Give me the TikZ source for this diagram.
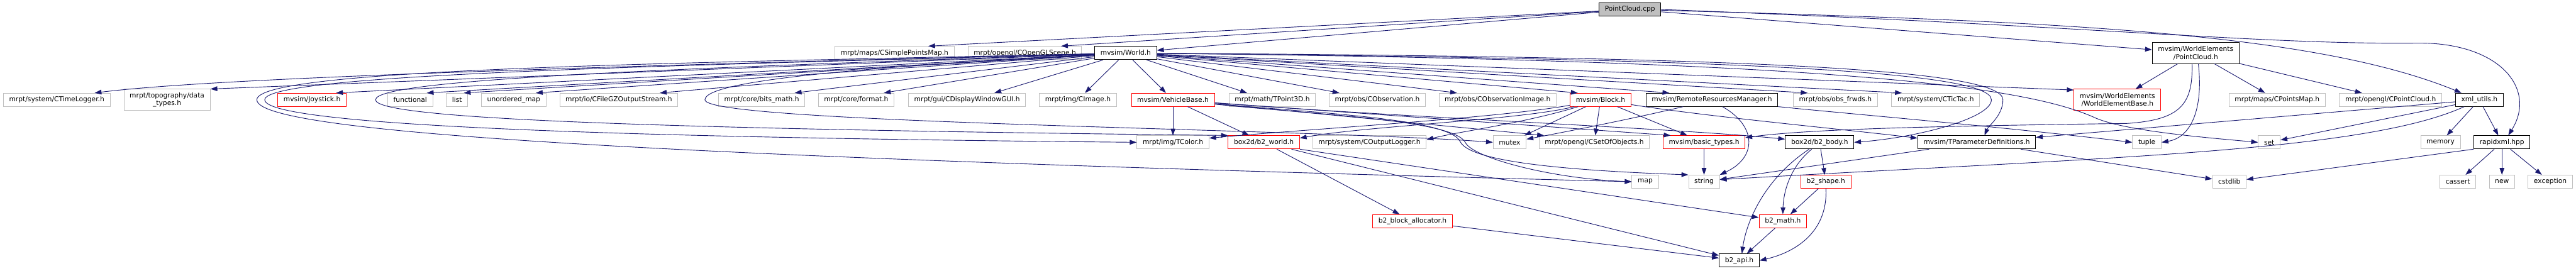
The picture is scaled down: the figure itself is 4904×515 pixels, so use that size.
\documentclass[tikz,border=0pt]{standalone}
\usepackage{fontspec}
\setmainfont{DejaVu Sans}
\usetikzlibrary{arrows.meta}

\definecolor{edgeblue}{RGB}{25,25,112}
\definecolor{boxgrey}{RGB}{191,191,191}
\definecolor{boxred}{RGB}{255,0,0}

\tikzset{
  hdr/.style={draw=boxgrey, line width=1.2pt, minimum height=25pt, inner xsep=11pt, inner ysep=2pt},
  hdoc/.style={hdr, draw=black},
  hcut/.style={hdr, draw=boxred},
  hroot/.style={hdr, draw=black, fill=boxgrey},
  two/.style={align=center, minimum height=40pt},
  inc/.style={draw=edgeblue, line width=1.1pt, -{Triangle[length=13pt,width=9pt]}},
}

\begin{document}
\begin{tikzpicture}[x=1pt,y=-1pt,font=\fontsize{12.8}{15}\selectfont]
  \useasboundingbox (0,0) rectangle (4904,515);

  % top rows
  \node[hroot] (cpp) at (3103,18) {PointCloud.cpp};
  \node[hdr] (simplePts) at (1703,101) {mrpt/maps/CSimplePointsMap.h};
  \node[hdr] (oglScene) at (1951,101) {mrpt/opengl/COpenGLScene.h};
  \node[hdoc] (world) at (2143,101) {mvsim/World.h};
  \node[hdoc,two] (pcH) at (4180,101) {mvsim/WorldElements\\/PointCloud.h};

  % headers included by World.h and PointCloud.h
  \node[hdr] (timeLog) at (108,190) {mrpt/system/CTimeLogger.h};
  \node[hdr,two] (topo) at (318,190) {mrpt/topography/data\\\_types.h};
  \node[hcut] (joystick) at (594,190) {mvsim/Joystick.h};
  \node[hdr] (functional) at (781,190) {functional};
  \node[hdr] (list) at (870,190) {list};
  \node[hdr] (umap) at (978,190) {unordered\_map};
  \node[hdr] (gzout) at (1178,190) {mrpt/io/CFileGZOutputStream.h};
  \node[hdr] (bitsmath) at (1450,190) {mrpt/core/bits\_math.h};
  \node[hdr] (format) at (1630,190) {mrpt/core/format.h};
  \node[hdr] (dispwin) at (1841,190) {mrpt/gui/CDisplayWindowGUI.h};
  \node[hdr] (cimage) at (2052,190) {mrpt/img/CImage.h};
  \node[hcut] (vehicle) at (2233,190) {mvsim/VehicleBase.h};
  \node[hdr] (tpoint) at (2422,190) {mrpt/math/TPoint3D.h};
  \node[hdr] (cobs) at (2622,190) {mrpt/obs/CObservation.h};
  \node[hdr] (cobsimg) at (2851,190) {mrpt/obs/CObservationImage.h};
  \node[hcut] (block) at (3047,190) {mvsim/Block.h};
  \node[hdoc] (remote) at (3259,190) {mvsim/RemoteResourcesManager.h};
  \node[hdr] (obsfrwds) at (3494,190) {mrpt/obs/obs\_frwds.h};
  \node[hdr] (tictac) at (3685,190) {mrpt/system/CTicTac.h};
  \node[hcut,two] (webase) at (4031,190) {mvsim/WorldElements\\/WorldElementBase.h};
  \node[hdr] (pointsmap) at (4335,190) {mrpt/maps/CPointsMap.h};
  \node[hdr] (oglcloud) at (4551,190) {mrpt/opengl/CPointCloud.h};
  \node[hdoc] (xmlutils) at (4720,190) {xml\_utils.h};

  \node[hdr] (tcolor) at (2233,271) {mrpt/img/TColor.h};
  \node[hcut] (bworld) at (2406,271) {box2d/b2\_world.h};
  \node[hdr] (outlog) at (2607,271) {mrpt/system/COutputLogger.h};
  \node[hdr] (mutex) at (2874,271) {mutex};
  \node[hdr] (setobj) at (3035,271) {mrpt/opengl/CSetOfObjects.h};
  \node[hcut] (basictypes) at (3244,271) {mvsim/basic\_types.h};
  \node[hdoc] (bbody) at (3464,271) {box2d/b2\_body.h};
  \node[hdoc] (tparam) at (3763,271) {mvsim/TParameterDefinitions.h};
  \node[hdr] (tuple) at (4087,271) {tuple};
  \node[hdr] (set) at (4320,271) {set};
  \node[hdr] (memory) at (4646,271) {memory};
  \node[hdoc] (rapidxml) at (4763,271) {rapidxml.hpp};

  \node[hdr] (map) at (3132,346) {map};
  \node[hdr] (string) at (3244,346) {string};
  \node[hcut] (bshape) at (3476,346) {b2\_shape.h};
  \node[hdr] (cstdlib) at (4244,346) {cstdlib};
  \node[hdr] (cassert) at (4679,346) {cassert};
  \node[hdr] (new) at (4763,346) {new};
  \node[hdr] (exception) at (4855,346) {exception};

  \node[hcut] (balloc) at (2689,421) {b2\_block\_allocator.h};
  \node[hcut] (bmath) at (3394,421) {b2\_math.h};
  \node[hdoc] (bapi) at (3311,496) {b2\_api.h};

  % PointCloud.cpp
  \draw[inc] (cpp) -- ([xshift=-50pt]simplePts.north east);
  \draw[inc] (cpp) -- ([xshift=-40pt]oglScene.north east);
  \draw[inc] (cpp) -- (world);
  \draw[inc] (cpp) -- (pcH);
  \draw[inc] (cpp) .. controls (3900,40) and (4400,60) .. ([xshift=12pt]xmlutils.north west);
  \draw[inc] (cpp.east) .. controls (4000,50) and (4300,85) .. (4600,82)
    .. controls (4760,80) and (4830,170) .. ([xshift=12pt]rapidxml.north);

  % World.h fan
  \draw[inc] (world) .. controls (1000,130) and (400,150) .. ([xshift=-30pt]timeLog.north east);
  \foreach \n/\s in {topo/0pt, joystick/-20pt, functional/-12pt, list/-8pt, umap/-20pt,
                     gzout/-35pt, bitsmath/-20pt, format/-20pt, dispwin/-60pt} {
    \draw[inc] (world) -- ([xshift=\s]\n.north east);
  }
  \draw[inc] (world) -- (cimage);
  \draw[inc] (world) -- (vehicle);
  \foreach \n/\s in {tpoint/35pt, cobs/20pt, cobsimg/35pt, block/15pt, remote/45pt,
                     obsfrwds/28pt, tictac/20pt} {
    \draw[inc] (world) -- ([xshift=\s]\n.north west);
  }
  \draw[inc] (world) -- ([yshift=-2pt]webase.north west);
  \draw[inc] (world) .. controls (1300,120) and (489,130) .. (489,190)
    .. controls (489,255) and (1300,300) .. (map.west);
  \draw[inc] (world) .. controls (1300,125) and (504,140) .. (504,190)
    .. controls (504,240) and (1200,262) .. (tcolor.west);
  \draw[inc] (world) .. controls (1300,130) and (715,150) .. (715,190)
    .. controls (715,225) and (1200,245) .. (bworld.north west);
  \draw[inc] (world) .. controls (1700,125) and (1342,150) .. (1342,190)
    .. controls (1342,235) and (2500,245) .. (mutex.west);
  \draw[inc] (world) .. controls (3300,112) and (3791,135) .. (3791,190)
    .. controls (3791,225) and (3650,262) .. (bbody.east);
  \draw[inc] (world) .. controls (3300,108) and (3813,130) .. (3813,190)
    .. controls (3813,220) and (3785,240) .. ([xshift=15pt]tparam.north);
  \draw[inc] (world) .. controls (3500,115) and (3860,165) .. (3990,225)
    .. controls (4050,250) and (4200,262) .. (set.west);

  % PointCloud.h
  \draw[inc] (pcH) -- (webase);
  \draw[inc] (pcH) -- (pointsmap);
  \draw[inc] (pcH) -- (oglcloud);
  \draw[inc] ([xshift=-7pt]pcH.south) .. controls (4175,200) and (4150,228) .. (4050,235)
    .. controls (3700,240) and (3450,245) .. ([yshift=9pt]basictypes.east);
  \draw[inc] ([xshift=5pt]pcH.south) .. controls (4195,210) and (4170,262) .. (tuple.east);

  % VehicleBase.h
  \draw[inc] (vehicle) -- (tcolor);
  \draw[inc] (vehicle) -- (bworld);
  \draw[inc] (vehicle) -- ([xshift=10pt]setobj.north west);
  \draw[inc] (vehicle) -- ([xshift=15pt]basictypes.north west);
  \draw[inc] (vehicle) .. controls (2700,225) and (3200,245) .. ([yshift=6pt]bbody.west);
  \draw[inc] (vehicle) .. controls (2500,218) and (2770,228) .. (2790,272)
    .. controls (2805,300) and (2950,340) .. (map.west);
  \draw[inc] (vehicle) .. controls (2500,215) and (2760,225) .. (2780,270)
    .. controls (2800,310) and (3000,325) .. (string.north west);

  % Block.h
  \draw[inc] (block) -- (mutex);
  \draw[inc] (block) -- (setobj);
  \draw[inc] (block) -- (basictypes);
  \draw[inc] (block) .. controls (2900,228) and (2600,240) .. ([yshift=8pt]bworld.east);
  \draw[inc] (block) .. controls (2850,225) and (2500,245) .. ([yshift=8pt]tcolor.east);
  \draw[inc] (block) .. controls (2900,235) and (2780,250) .. ([yshift=5pt]outlog.east);
  \draw[inc] (block) .. controls (3250,222) and (3500,245) .. ([yshift=8pt]tparam.west);

  % RemoteResourcesManager.h
  \draw[inc] (remote) .. controls (3100,228) and (2960,255) .. ([yshift=6pt]mutex.east);
  \draw[inc] ([xshift=20pt]remote.south) .. controls (3345,240) and (3345,300) .. (string.north east);
  \draw[inc] (remote) .. controls (3500,215) and (3800,240) .. (tuple.west);

  \draw[inc] (basictypes) -- (string);
  \draw[inc] (tparam) -- (string);
  \draw[inc] (tparam) -- (cstdlib);

  % xml_utils.h and rapidxml.hpp
  \draw[inc] (xmlutils) -- (memory);
  \draw[inc] (xmlutils) -- (rapidxml);
  \draw[inc] (xmlutils) -- (set);
  \draw[inc] (xmlutils) -- (tparam);
  \draw[inc] (xmlutils) .. controls (4500,290) and (4000,300) .. ([yshift=4pt]string.east);
  \draw[inc] (rapidxml.south west) -- (cstdlib);
  \foreach \n in {cassert,new,exception}
    \draw[inc] (rapidxml) -- (\n);

  % box2d
  \draw[inc] (bworld) -- (balloc);
  \draw[inc] (bworld.south east) -- (bmath);
  \draw[inc] (bworld) -- (bapi);
  \draw[inc] (balloc) -- (bapi);
  \draw[inc] (bbody) -- (bshape);
  \draw[inc] ([xshift=-15pt]bbody.south) .. controls (3405,320) and (3395,370) .. (bmath.north);
  \draw[inc] ([xshift=-20pt]bbody.south) .. controls (3360,340) and (3325,420) .. ([xshift=5pt]bapi.north);
  \draw[inc] (bshape) -- (bmath);
  \draw[inc] (bshape.south) .. controls (3480,440) and (3420,480) .. (bapi.east);
  \draw[inc] (bmath) -- (bapi);
\end{tikzpicture}
\end{document}
